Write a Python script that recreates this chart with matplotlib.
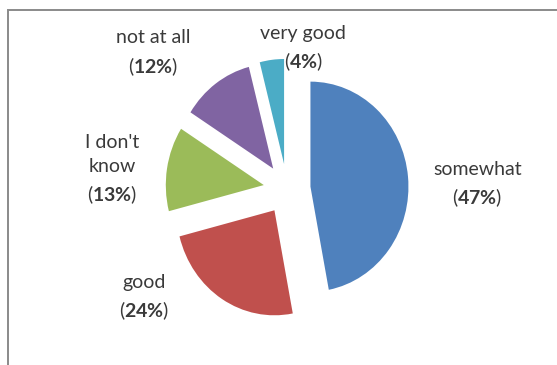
import matplotlib
matplotlib.use("Agg")
import matplotlib.pyplot as plt
from matplotlib.patches import Rectangle

# Survey answers and their shares (percent)
categories = ["somewhat", "good", "I don't\nknow", "not at all", "very good"]
shares = [47, 24, 13, 12, 4]
colors = ["#4F81BD", "#C0504D", "#9BBB59", "#8064A2", "#4BACC6"]

# label anchor points in figure fraction (x, y)
label_pos = [(0.857, 0.493), (0.259, 0.184), (0.201, 0.534), (0.275, 0.853), (0.544, 0.866)]

plt.rcParams["font.family"] = ["Lato", "DejaVu Sans"]
plt.rcParams["mathtext.fontset"] = "custom"
plt.rcParams["mathtext.rm"] = "Lato"
plt.rcParams["mathtext.bf"] = "Lato:bold"

fig = plt.figure(figsize=(5.57, 3.65), dpi=100)
ax = fig.add_axes([0, 0, 1, 1])

ax.pie(shares, colors=colors, startangle=90, counterclock=False,
       explode=[0.24] * len(shares), radius=1.0,
       wedgeprops=dict(edgecolor="none", linewidth=0))
ax.set_aspect("auto")
ax.set_xlim(-2.929, 2.755)
ax.set_ylim(-1.676, 1.8)
ax.axis("off")

for name, val, (lx, ly) in zip(categories, shares, label_pos):
    ax.text(lx, ly, name + "\n(" + r"$\mathbf{" + str(val) + r"\%}$" + ")",
            transform=fig.transFigure, ha="center", va="center",
            fontsize=14, color="#3a3a3a", linespacing=1.5)

# chart area border (top and left edges visible)
fig.patches.append(Rectangle((7.8 / 557, -0.1), 1.2, 1.1 - 9.5 / 365,
                             transform=fig.transFigure, fill=False,
                             edgecolor="#8a8a8a", linewidth=1.4))

fig.savefig("out.png", dpi=100)
